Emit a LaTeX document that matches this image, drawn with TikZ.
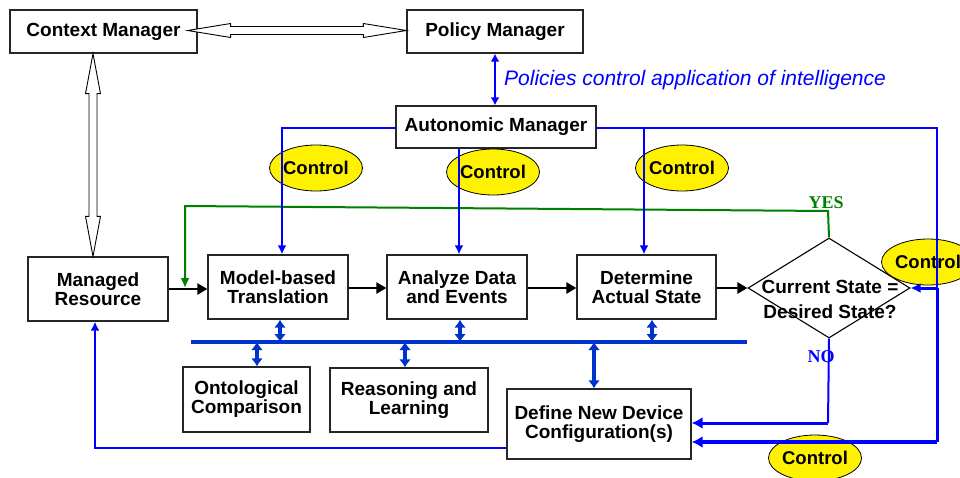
\documentclass[tikz,border=0pt]{standalone}
\usepackage{fontspec}
\setmainfont{Liberation Sans}
\newfontfamily\yesnofont{Liberation Serif}
\usetikzlibrary{arrows.meta,shapes.geometric,calc}
\definecolor{ctlblue}{RGB}{0,0,255}
\definecolor{busblue}{RGB}{0,51,204}
\definecolor{yesgreen}{RGB}{0,128,0}
\begin{document}
\begin{tikzpicture}[x=1pt,y=-1pt,
  box/.style={draw=black!85, line width=1.3pt, fill=white, align=center,
    font=\fontsize{19}{19}\selectfont\bfseries, inner sep=0pt},
  ctrl/.style={ellipse, draw=black, line width=0.8pt, fill=yellow,
    minimum width=86, minimum height=46, inner sep=0pt,
    font=\fontsize{18.5}{18.5}\selectfont\bfseries},
  hollow/.style={draw=black, line width=0.9pt, fill=white},
  ctlline/.style={draw=ctlblue, line width=2pt},
  ctlarrow/.style={ctlline, -{Latex[length=9,width=9]}},
  busarrow/.style={draw=busblue, line width=3.5pt, {Latex[length=8,width=12]}-{Latex[length=8,width=12]}},
  flow/.style={draw=black, line width=2.6pt, -{Triangle[length=10,width=11]}},
  yesno/.style={font=\fontsize{18}{18}\yesnofont\bfseries, inner sep=0pt}
]
\useasboundingbox (0,0) rectangle (960,477);

% boxes
\node[box, minimum width=187, minimum height=43] (cm) at (103.5,31.5) {Context Manager};
\node[box, minimum width=176, minimum height=43] (pm) at (495,31.5) {Policy Manager};
\node[box, minimum width=200, minimum height=42] (am) at (496,127) {Autonomic Manager};
\node[box, minimum width=140, minimum height=64] (mr) at (98,289) {Managed\\Resource};
\node[box, minimum width=140, minimum height=64] (mbt) at (278,287) {Model-based\\Translation};
\node[box, minimum width=140, minimum height=64] (ade) at (457,287) {Analyze Data\\and Events};
\node[box, minimum width=139, minimum height=64] (das) at (646.5,287) {Determine\\Actual State};
\node[box, minimum width=127, minimum height=65] (ont) at (246.5,399.5) {Ontological\\Comparison};
\node[box, minimum width=158, minimum height=64] (rea) at (409,400) {Reasoning and\\Learning};
\node[box, minimum width=184, minimum height=70] (dnd) at (599,424) {Define New Device\\Configuration(s)};

% decision
\node[align=center, font=\fontsize{19}{25}\selectfont\bfseries, inner sep=0pt] (diatext) at (830,299) {Current State =\\Desired State?};
\node[diamond, draw=black, line width=1.1pt, minimum width=162, minimum height=100, inner sep=0pt] (dia) at (829,288) {};

% hollow double arrows
\coordinate (h1) at ($(cm.east)+(-10,-1)$);
\coordinate (h2) at ($(pm.west)+(0,-1)$);
\draw[hollow] (h1) -- ++(43,-7) -- ++(0,3) -- ($(h2)+(-43,-4)$) -- ++(0,-3) -- (h2)
  -- ++(-43,7) -- ++(0,-3) -- ($(h1)+(43,4)$) -- ++(0,3) -- cycle;
\coordinate (v1) at (cm.south -| 93,0);
\coordinate (v2) at (mr.north -| 93,0);
\draw[hollow] (v1) -- ++(7.5,40) -- ++(-3.5,0) -- ($(v2)+(4,-40)$) -- ++(3.5,0) -- (v2)
  -- ++(-7.5,-40) -- ++(3.5,0) -- ($(v1)+(-4,40)$) -- ++(-3.5,0) -- cycle;

% policy link
\draw[draw=ctlblue, line width=2.6pt, {Latex[length=8,width=9]}-{Latex[length=8,width=9]}] (pm.south) -- (am.north -| pm.south);
\node[anchor=west, text=ctlblue, font=\fontsize{21}{22}\selectfont\itshape, inner sep=0pt] (pol) at (504,80) {Policies control application of intelligence};

% control tags
\node[ctrl] (c1) at (316,168) {Control};
\node[ctrl] (c2) at (493,172) {Control};
\node[ctrl] (c3) at (682,168) {Control};
\node[ctrl] (c4) at (928,262) {Control};
\node[ctrl] (c5) at (815,458) {Control};

% green YES feedback
\coordinate (gy) at (828,211);
\coordinate (gl) at (185,206);
\draw[draw=yesgreen, line width=2pt, -{Latex[length=10,width=9]}] (dia.north) -- (gy) -- (gl) -- (185,288);
\node[yesno, text=yesgreen] (yes) at (826,203) {YES};

% main flow
\draw[flow] (mr.east |- 0,289) -- (mbt.west |- 0,289);
\draw[flow] (mbt.east |- 0,288) -- (ade.west |- 0,288);
\draw[flow] (ade.east |- 0,288) -- (das.west |- 0,288);
\draw[flow] (das.east |- 0,288) -- (dia.west);

% control lines from the autonomic manager
\coordinate (aml) at (282,128);
\coordinate (amr) at (937,128);
\coordinate (amd) at (644,128);
\coordinate (amb) at (937,442);
\draw[ctlarrow] (am.west |- aml) -- (aml) -- (mbt.north -| aml);
\draw[ctlarrow] (am.south -| 459,0) -- (ade.north -| 459,0);
\draw[ctlline] (am.east |- amr) -- (amr) -- (937,288);
\draw[draw=ctlblue, line width=3pt] (937,288) -- (amb);
\draw[ctlarrow] (amd) -- (das.north -| amd);
\draw[draw=ctlblue, line width=3pt, -{Latex[length=10,width=10]}] (937,288) -- (dia.east);
\draw[draw=ctlblue, line width=3.5pt, -{Latex[length=11,width=12]}] (amb) -- (dnd.east |- amb);

% NO branch
\coordinate (nob) at (828,423);
\draw[draw=ctlblue, line width=2pt] (dia.south) -- (nob);
\draw[draw=ctlblue, line width=3pt, -{Latex[length=11,width=12]}] (nob) -- (dnd.east |- nob);
\node[yesno, text=ctlblue] (no) at (821,357) {NO};

% return to the managed resource
\coordinate (rl) at (95,448);
\draw[ctlarrow, line width=2.4pt] (dnd.west |- rl) -- (rl) -- (mr.south -| rl);

% knowledge bus
\coordinate (busl) at (191,342);
\coordinate (busr) at (747,342);
\draw[draw=busblue, line width=3.5pt] (busl) -- (busr);
\draw[busarrow] (mbt.south -| 280,0) -- (280,342);
\draw[busarrow] (ade.south -| 460,0) -- (460,342);
\draw[busarrow] (das.south -| 652,0) -- (652,342);
\draw[busarrow] (257,342) -- (ont.north -| 257,0);
\draw[busarrow] (405,342) -- (rea.north -| 405,0);
\draw[busarrow] (594,342) -- (dnd.north -| 594,0);
\end{tikzpicture}
\end{document}
